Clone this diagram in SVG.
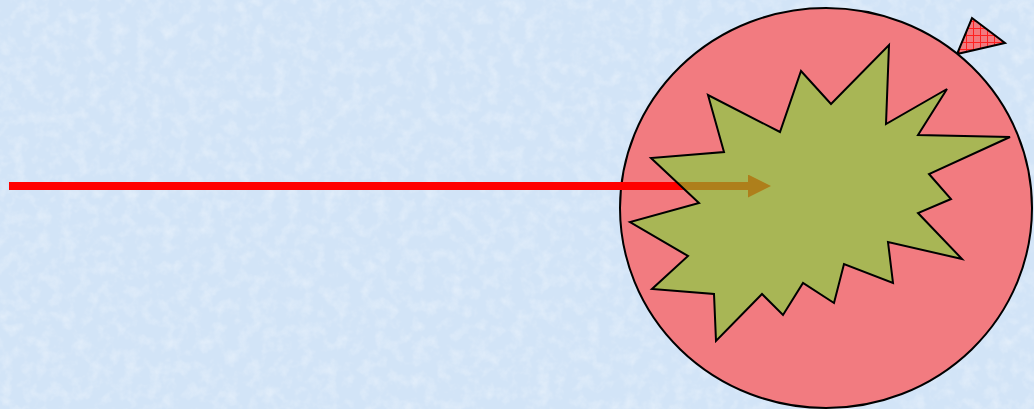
<svg xmlns="http://www.w3.org/2000/svg" width="1034" height="409" viewBox="0 0 1034 409">
  <defs>
    <filter id="tex" x="0" y="0" width="100%" height="100%">
      <feTurbulence type="fractalNoise" baseFrequency="0.08" numOctaves="3" seed="4" result="n"/>
      <feColorMatrix in="n" type="matrix" values="0 0 0 0 1  0 0 0 0 1  0 0 0 0 1  0 0 0 1.4 -0.6" />
    </filter>
    <pattern id="grid" width="7" height="7" patternUnits="userSpaceOnUse">
      <rect width="7" height="7" fill="#f2797e"/>
      <path d="M0 0.5H7M0.5 0V7" stroke="#ff2020" stroke-width="1"/>
    </pattern>
    <marker id="ah" viewBox="0 0 23 23" refX="0" refY="11.5" markerWidth="23" markerHeight="23" markerUnits="userSpaceOnUse" orient="auto">
      <path d="M0 0L23 11.5L0 23Z" fill="#ff0000"/>
    </marker>
    <style>
      .outline{stroke:#000;stroke-width:2;stroke-linejoin:miter}
    </style>
  </defs>
  <rect width="1034" height="409" fill="#d2e4f7"/>
  <rect width="1034" height="409" filter="url(#tex)" opacity="0.5"/>
  <g id="triangle">
    <polygon class="outline" points="972,18 1005,43 957,54" fill="url(#grid)"/>
  </g>
  <g id="circle">
    <ellipse class="outline" cx="826" cy="208" rx="206" ry="200" fill="#f27b80"/>
  </g>
  <g id="connectors">
    <line x1="9" y1="186" x2="748" y2="186" stroke="#ff0000" stroke-width="8" marker-end="url(#ah)"/>
  </g>
  <g id="star">
    <polygon class="outline" fill="#6be832" fill-opacity="0.55" points="889,45 886,124 947,89 918,135 1010,137 929,174 951,199 918,213 962,259 888,242 893,283 844,264 834,303 803,283 783,315 762,294 716,341 714,294 652,289 688,256 630,222 699,203 651,158 724,152 708,95 780,132 801,71 831,104"/>
  </g>
</svg>
